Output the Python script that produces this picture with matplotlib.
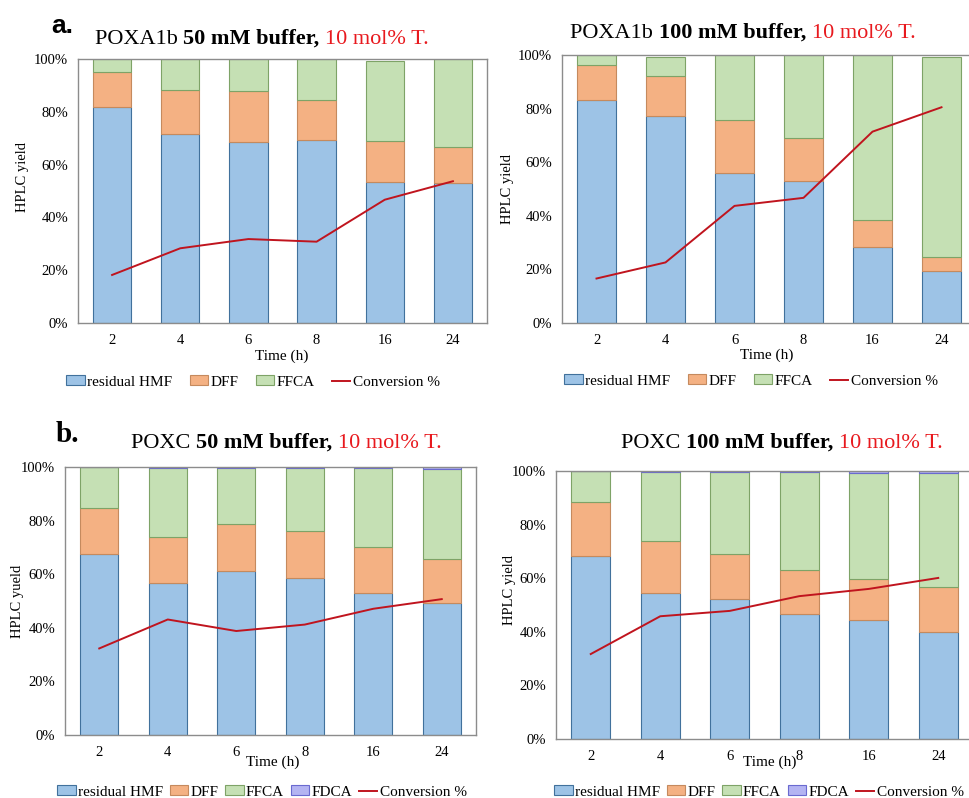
import matplotlib
matplotlib.use("Agg")
import matplotlib.pyplot as plt
from matplotlib.patches import Patch
from matplotlib.lines import Line2D
from matplotlib.offsetbox import TextArea, HPacker, AnnotationBbox
from matplotlib.ticker import FuncFormatter

plt.rcParams['font.family'] = ['Liberation Serif', 'DejaVu Serif']

# Sampling times (h)
times = ['2', '4', '6', '8', '16', '24']

# POXA1b, 50 mM buffer (segment heights, %)
a50_hmf = [81.8, 71.7, 68.4, 69.2, 53.4, 53.2]
a50_dff = [13.4, 16.7, 19.4, 15.4, 15.5, 13.3]
a50_ffca = [4.8, 11.6, 12.2, 15.4, 30.5, 33.5]
a50_conv = [18.2, 28.3, 31.8, 30.8, 46.7, 53.7]

# POXA1b, 100 mM buffer
a100_hmf = [83.2, 77.3, 56.1, 53.0, 28.3, 19.3]
a100_dff = [12.9, 14.9, 19.7, 15.9, 10.0, 5.5]
a100_ffca = [3.9, 7.2, 24.2, 31.1, 61.7, 74.6]
a100_conv = [16.6, 22.6, 43.7, 46.7, 71.4, 80.5]

# POXC, 50 mM buffer
c50_hmf = [67.7, 56.9, 61.1, 58.6, 52.8, 49.1]
c50_dff = [17.0, 17.0, 17.8, 17.5, 17.3, 16.7]
c50_ffca = [15.3, 25.6, 20.8, 23.5, 29.6, 33.5]
c50_fdca = [0.0, 0.5, 0.3, 0.4, 0.3, 0.7]
c50_conv = [32.3, 43.1, 38.8, 41.2, 47.1, 50.7]

# POXC, 100 mM buffer
c100_hmf = [68.4, 54.4, 52.3, 46.8, 44.3, 40.1]
c100_dff = [20.2, 19.4, 16.9, 16.2, 15.3, 16.7]
c100_ffca = [11.4, 25.8, 30.6, 36.5, 39.8, 42.3]
c100_fdca = [0.0, 0.4, 0.2, 0.5, 0.6, 0.9]
c100_conv = [31.7, 45.8, 47.8, 53.3, 56.0, 60.1]

COL = {
    'residual HMF': ('#9DC3E6', '#41719C'),
    'DFF': ('#F4B183', '#C58A5E'),
    'FFCA': ('#C5E0B4', '#7EA367'),
    'FDCA': ('#B4B4F2', '#6A6AD0'),
}
LINE_COL = '#C0141E'
SPINE_COL = '#8C8C8C'

fig = plt.figure(figsize=(9.7, 7.98), dpi=100)
W, H = 970.0, 798.0


def px_axes(x0, y0, x1, y1):
    return fig.add_axes([x0 / W, 1 - y1 / H, (x1 - x0) / W, (y1 - y0) / H])


def panel(ax, series, conv, ylabel, ylab_xy, xlab_xy, legend_xy, colspace):
    x = range(len(times))
    bottom = [0.0] * len(times)
    handles = []
    for name, vals in series:
        fc, ec = COL[name]
        ax.bar(x, vals, width=0.56, bottom=bottom, color=fc, edgecolor=ec,
               linewidth=0.8, zorder=2)
        bottom = [b + v for b, v in zip(bottom, vals)]
        handles.append(Patch(facecolor=fc, edgecolor=ec, linewidth=0.8, label=name))
    ax.plot(x, conv, color=LINE_COL, lw=1.4, zorder=3)
    handles.append(Line2D([], [], color=LINE_COL, lw=1.4, label='Conversion %'))

    ax.set_xlim(-0.5, len(times) - 0.5)
    ax.set_ylim(0, 100)
    ax.set_yticks([0, 20, 40, 60, 80, 100])
    ax.yaxis.set_major_formatter(FuncFormatter(lambda v, p: f'{v:.0f}%'))
    ax.set_xticks(list(x))
    ax.set_xticklabels(times)
    ax.tick_params(length=0, labelsize=10.5, pad=8)
    ax.tick_params(axis='y', pad=7)
    for s in ax.spines.values():
        s.set_color(SPINE_COL)
        s.set_linewidth(1.0)
    ax.set_ylabel(ylabel, fontsize=10.5)
    ax.yaxis.set_label_coords(*ylab_xy)
    ax.set_xlabel('Time (h)', fontsize=11)
    ax.xaxis.set_label_coords(*xlab_xy)
    fig.legend(handles=handles, loc='center', ncol=len(handles), frameon=False,
               bbox_to_anchor=(legend_xy[0] / W, 1 - legend_xy[1] / H),
               fontsize=11, handlelength=1.2, handleheight=0.6,
               handletextpad=0.15, columnspacing=colspace)


def title(cx, cy, enzyme, buffer):
    parts = [
        TextArea(enzyme + ' ', textprops=dict(fontsize=16, color='black')),
        TextArea(buffer + ', ', textprops=dict(fontsize=16, color='black', weight='bold')),
        TextArea('10 mol% T.', textprops=dict(fontsize=16, color='#E8191E')),
    ]
    box = HPacker(children=parts, align='baseline', pad=0, sep=0)
    ab = AnnotationBbox(box, (cx / W, 1 - cy / H), xycoords='figure fraction',
                        box_alignment=(0.5, 0.5), frameon=False)
    fig.add_artist(ab)


ax1 = px_axes(78, 59, 487, 323)
panel(ax1, [('residual HMF', a50_hmf), ('DFF', a50_dff), ('FFCA', a50_ffca)],
      a50_conv, 'HPLC yield', (-0.120, 0.553), (0.499, -0.102), (253, 382), 1.15)
title(262, 39, 'POXA1b', '50 mM buffer')

ax2 = px_axes(562, 55, 976, 323)
panel(ax2, [('residual HMF', a100_hmf), ('DFF', a100_dff), ('FFCA', a100_ffca)],
      a100_conv, 'HPLC yield', (-0.116, 0.5), (0.495, -0.097), (751, 381), 1.15)
title(743, 33, 'POXA1b', '100 mM buffer')

ax3 = px_axes(65, 467, 476, 735)
panel(ax3, [('residual HMF', c50_hmf), ('DFF', c50_dff), ('FFCA', c50_ffca),
            ('FDCA', c50_fdca)],
      c50_conv, 'HPLC yueld', (-0.100, 0.5), (0.506, -0.075), (262, 792), 0.45)
title(286, 443, 'POXC', '50 mM buffer')

ax4 = px_axes(556, 471, 973, 739)
panel(ax4, [('residual HMF', c100_hmf), ('DFF', c100_dff), ('FFCA', c100_ffca),
            ('FDCA', c100_fdca)],
      c100_conv, 'HPLC yield', (-0.096, 0.556), (0.513, -0.06), (759, 792), 0.45)
title(782, 443, 'POXC', '100 mM buffer')

fig.text(62 / W, 1 - 26 / H, 'a.', fontsize=19, weight='bold',
         family=['Liberation Sans', 'DejaVu Sans'], ha='center', va='center')
fig.text(67 / W, 1 - 434 / H, 'b.', fontsize=21, weight='bold',
         ha='center', va='center')

fig.savefig('out.png', dpi=100)
